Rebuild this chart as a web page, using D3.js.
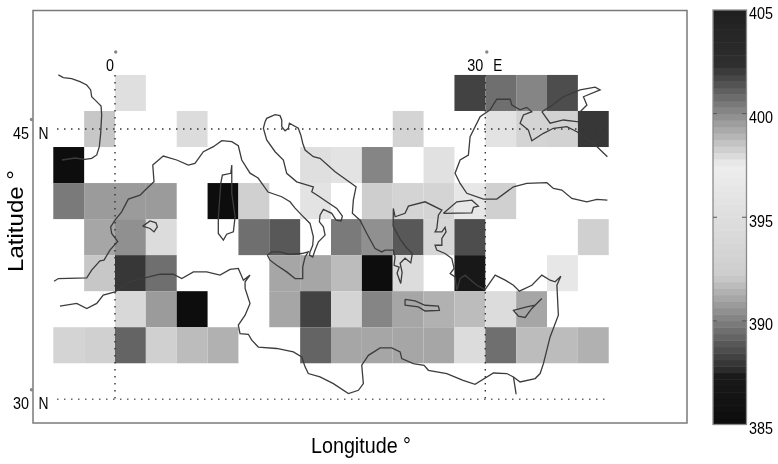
<!DOCTYPE html>
<html lang="en">
<head>
    <meta charset="UTF-8">
    <title>Mediterranean grid map</title>
    <script src="https://cdn.jsdelivr.net/npm/d3@7"></script>
    <style>
        html, body { margin: 0; padding: 0; background: #fff; }
        svg { display: block; filter: blur(0.7px); }
        text { font-family: "Liberation Sans", Arial, sans-serif; fill: #000; }
    </style>
</head>
<body>
<script type="text/javascript">
    // grid cells: west edge of each column, north edge of each row
    var cellLon = [-5, -2.5, 0, 2.5, 5, 7.5, 10, 12.5, 15, 17.5, 20, 22.5, 25, 27.5, 30, 32.5, 35, 37.5];
    var cellLat = [48, 46, 44, 42, 40, 38, 36, 34];
    var n = null;
    var row48 = [n, n, 395.25, n, n, n, n, n, n, n, n, n, n, 388.2, 389.57, 390.02, 388.67, n];
    var row46 = [n, 392.17, n, n, 394.6, n, n, n, n, n, n, 393.3, n, n, 395.9, 393.3, 392.9, 388.0];
    var row44 = [385.2, n, n, n, n, n, n, n, 395.25, 395.9, 390.0, n, 395.6, n, n, n, n, n];
    var row42 = [389.77, 390.8, 390.8, 390.8, n, 385.2, 392.5, n, 395.9, n, 392.2, 393.3, 393.3, 396.5, 392.7, n, n, n];
    var row40 = [n, 391, 390.35, 394.6, n, n, 389.57, 388.9, n, 389.77, 390.35, 389.0, 393.6, 388.45, n, n, n, 392.7];
    var row38 = [n, 392.06, 388.0, 389.5, n, n, n, 391.15, 391.15, 391.6, 385.2, 394.6, n, 386.9, n, n, 396.5, n];
    var row36 = [n, n, 393.97, 390.7, 385, n, n, 391, 388.3, 393.3, 390.2, 391.15, 391.5, 391.72, 394.6, 391, n, n];
    var row34 = [393.3, 392.68, 389.29, 392.68, 391.83, 391.38, n, n, 389.29, 391.15, 391.15, 391, 391, 394.6, 389.57, 391.72, 391.72, 391.38];
    var cellRows = [row48, row46, row44, row42, row40, row38, row36, row34];

    // colour bar
    var barTicks = [385, 390, 395, 400, 405];
    var barMarks = [390, 395, 400];
    var barStops = [385, 387.4, 387.65, 392.2, 397.5, 402.1, 402.15, 405];
    var barGrays = [12, 26, 44, 205, 238, 56, 48, 31];

    // coast lines, [lon, lat]
    var coastFrance = [[-4.59,48.0],[-4.19,47.85],[-3.51,47.79],[-2.84,47.63],[-2.29,47.44],[-1.97,47.17],[-1.89,46.79],[-1.48,46.52],[-1.13,46.28],[-1.08,45.78],[-1.16,44.76],[-1.27,44.02],[-1.48,43.56],[-1.89,43.37],[-2.43,43.32],[-3.24,43.39],[-4.3,43.28]];
    var coastMed = [[-4.94,36.55],[-4.59,36.70],[-2.29,36.74],[-1.89,37.17],[-1.22,37.68],[-0.89,37.72],[-0.41,38.28],[0.22,38.76],[-0.27,39.20],[-0.35,39.57],[0,39.94],[0.54,40.40],[1.08,41.11],[2.03,41.33],[2.57,41.70],[3.16,42.07],[3.06,43.0],[3.91,43.50],[5.0,43.28],[5.94,43.0],[6.48,43.09],[7.16,43.74],[7.97,44.02],[8.65,44.35],[9.46,44.30],[9.99,44.07],[10.27,43.28],[10.94,42.55],[11.59,42.28],[12.40,41.50],[13.51,41.24],[14.18,40.96],[14.59,40.61],[15.13,40.22],[15.80,39.76],[16.07,39.02],[16.02,38.55],[15.80,38.18],[15.75,38.0],[16.02,37.90],[16.21,38.28],[16.48,38.74],[17.02,39.11],[16.88,39.57],[16.56,39.85],[16.61,40.22],[16.88,40.54],[17.56,40.32],[17.91,39.94],[18.32,39.90],[18.42,40.17],[17.97,40.59],[17.16,40.96],[16.48,41.28],[15.94,41.52],[16.07,41.79],[14.72,42.07],[13.91,42.54],[13.64,43.28],[12.97,43.74],[12.29,44.39],[12.02,45.04],[12.16,45.41],[12.29,45.59],[12.97,45.80],[13.37,45.74],[13.51,45.50],[13.51,45.13],[13.78,44.90],[14.04,45.04],[14.13,45.32],[14.85,45.04],[15.05,44.67],[15.21,44.21],[15.40,43.83],[16.07,43.46],[16.61,43.37],[17.83,42.63],[19.53,41.79],[19.31,41.05],[19.23,40.32],[19.85,39.94],[20.40,39.20],[21.07,38.37],[21.61,38.18],[21.88,38.28],[22.55,38.28],[22.69,37.90],[22.61,37.44],[23.02,37.33],[22.85,37.0],[23.15,36.43],[23.26,37.05],[23.10,37.55],[23.50,37.83],[23.96,37.57],[24.09,38.09],[23.58,38.44],[23.10,38.89],[22.53,39.61],[22.55,40.59],[22.69,40.13],[23.50,40.32],[23.77,40.72],[25.12,40.96],[26.48,40.50],[26.20,40.22],[26.07,39.48],[25.93,39.29],[26.48,39.29],[26.74,39.54],[26.82,39.29],[26.48,38.93],[26.48,38.55],[25.93,38.55],[26.07,38.28],[26.74,38.09],[27.29,37.81],[27.47,37.26],[27.15,36.98],[27.55,36.79],[27.69,36.05],[27.96,36.70],[28.36,36.89],[29.31,36.33],[29.98,36.09],[30.80,36.89],[31.61,36.61],[32.28,36.33],[32.76,36.0],[33.77,36.33],[34.58,36.89],[35.25,36.61],[35.66,36.52],[36.12,36.83],[35.80,36.33],[35.92,34.67],[35.25,33.46],[34.71,31.98],[34.44,31.43],[34.04,31.15],[32.82,30.96],[32.28,31.24],[31.74,31.43],[30.66,31.46],[29.17,30.83],[28.20,31.05],[26.88,31.43],[25.39,31.61],[25.04,31.89],[24.17,31.98],[23.23,32.26],[23.10,32.63],[22.42,32.85],[21.48,32.85],[20.53,32.44],[19.99,31.89],[20.12,30.87],[19.72,30.50],[18.91,30.32],[17.69,30.87],[16.61,31.24],[15.66,31.43],[15.40,31.80],[15.13,32.35],[14.45,32.63],[13.10,32.82],[11.61,32.90],[11.08,33.28],[10.80,33.61],[10.13,33.65],[9.99,34.11],[10.54,34.67],[10.94,35.32],[10.54,36.15],[10.54,36.52],[10.94,36.89],[10.40,36.61],[9.99,37.26],[9.32,37.21],[8.51,36.89],[7.43,37.07],[6.35,37.07],[5.41,36.70],[4.72,36.94],[3.65,36.94],[2.57,36.76],[1.22,36.52],[0,35.96],[-0.95,35.78],[-1.48,35.32],[-2.29,35.04],[-3.10,35.32],[-4.46,35.17]];
    var coastSuez = [[32.28,31.24],[32.50,30.28]];
    var coastBlackSea = [[39.89,43.46],[38.76,44.21],[37.42,44.85],[36.61,45.13],[35.52,45.04],[34.71,44.76],[33.77,44.35],[33.49,44.94],[32.82,45.32],[33.09,45.78],[33.77,45.96],[33.36,46.20],[32.82,46.06],[32.15,46.33],[32.01,46.65],[30.93,46.65],[30.39,46.06],[29.58,45.68],[28.77,44.57],[28.63,43.55],[27.96,43.28],[27.55,42.54],[27.96,41.98],[28.50,41.43],[29.85,41.11],[30.93,41.11],[32.28,41.79],[33.36,41.98],[34.99,42.02],[35.52,41.70],[36.20,41.61],[37.01,41.15],[38.23,40.96],[39.04,41.09],[39.89,41.05]];
    var coastAzov = [[34.58,45.96],[35.25,45.32],[36.33,45.50],[37.55,45.40],[37.68,45.96],[38.23,46.33],[37.95,46.79],[39.30,47.17],[38.90,47.32],[37.68,47.17],[36.33,46.79],[35.25,46.24],[34.58,45.96]];
    var coastMarmara = [[26.61,40.32],[27.69,40.96],[28.91,41.05],[29.44,40.72],[29.04,40.65],[28.91,40.35],[26.61,40.32]];
    var coastCorsica = [[9.46,43.0],[9.38,42.54],[8.70,42.44],[8.57,41.98],[8.37,40.04],[8.37,39.20],[8.78,38.83],[9.05,39.16],[9.59,39.29],[9.73,40.13],[9.46,41.43],[9.46,43.0]];
    var coastMallorca = [[2.24,39.61],[2.84,39.90],[3.32,39.79],[3.43,39.57],[3.16,39.29],[2.84,39.48],[2.24,39.61]];
    var coastSicily = [[12.34,38.0],[12.70,38.18],[13.37,38.18],[14.04,38.05],[15.13,38.09],[15.66,38.18],[15.40,37.90],[15.21,37.35],[15.21,36.70],[14.59,36.70],[13.91,37.07],[13.10,37.44],[12.56,37.72],[12.34,38.0]];
    var coastCrete = [[23.50,35.55],[24.31,35.46],[25.12,35.22],[26.20,35.17],[26.28,34.94],[25.12,34.90],[24.58,35.13],[23.50,35.22],[23.50,35.55]];
    var coastCyprus = [[34.58,35.59],[34.04,35.22],[33.36,35.13],[32.28,34.94],[32.68,34.61],[33.23,34.54],[33.77,35.04],[34.58,35.59]];
    var coasts = [coastFrance, coastMed, coastSuez, coastBlackSea, coastAzov, coastMarmara, coastCorsica, coastMallorca, coastSicily, coastCrete, coastCyprus];

    // dotted graticule
    var gridLon = [0, 30];
    var gridLat = [45, 30];

    var w = 778;
    var h = 464;
    var svg = d3.select("body").append("svg").attr("width", w).attr("height", h);

    var x = d3.scaleLinear().domain([0, 30]).range([115, 485.3]);
    var y = d3.scaleLinear().domain([30, 45]).range([399.3, 129]);

    // 64 grey levels, same as the bar
    var grayAt = d3.scaleLinear().domain(barStops).range(barGrays);
    var levels = d3.range(64).map(function(i){
        var g = Math.round(grayAt(385 + (i + 0.5) * 20 / 64));
        return "rgb(" + g + "," + g + "," + g + ")";
    });
    var color = d3.scaleQuantize().domain([385, 405]).range(levels);

    /* cells */
    cellRows.forEach(function(row, r){
        svg.append("g").selectAll("rect")
            .data(row.map(function(v, c){ return {v: v, lon: cellLon[c], lat: cellLat[r]}; })
                     .filter(function(d){ return d.v !== null; }))
            .enter()
            .append("rect")
            .attr("x", function(d){ return x(d.lon); })
            .attr("y", function(d){ return y(d.lat); })
            .attr("width", function(d){ return x(d.lon + 2.5) - x(d.lon); })
            .attr("height", function(d){ return y(d.lat - 2) - y(d.lat); })
            .attr("fill", function(d){ return color(d.v); });
    });

    /* graticule */
    svg.selectAll("line.lon").data(gridLon).enter().append("line")
        .attr("class", "lon")
        .attr("x1", function(d){ return x(d); })
        .attr("x2", function(d){ return x(d); })
        .attr("y1", y(48))
        .attr("y2", y(30))
        .attr("stroke", "#333")
        .attr("stroke-width", 1.4)
        .attr("stroke-dasharray", "1.5,5.5");
    svg.selectAll("line.lat").data(gridLat).enter().append("line")
        .attr("class", "lat")
        .attr("x1", x(-4.7))
        .attr("x2", x(40))
        .attr("y1", function(d){ return y(d); })
        .attr("y2", function(d){ return y(d); })
        .attr("stroke", function(d){ return d === 45 ? "#333" : "#666"; })
        .attr("stroke-width", 1.4)
        .attr("stroke-dasharray", "1.5,5.5");

    /* coast */
    var coastLine = d3.line()
        .x(function(d){ return x(d[0]); })
        .y(function(d){ return y(d[1]); });
    svg.selectAll("path.coast").data(coasts).enter().append("path")
        .attr("class", "coast")
        .attr("d", coastLine)
        .attr("fill", "none")
        .attr("stroke", "#3c3c3c")
        .attr("stroke-width", 1.3);

    /* plot frame */
    svg.append("rect")
        .attr("x", 33).attr("y", 10.5)
        .attr("width", 654).attr("height", 412.5)
        .attr("fill", "none")
        .attr("stroke", "#7a7a7a")
        .attr("stroke-width", 1.5);

    /* map labels */
    function label(txt, px, py, len){
        svg.append("text").text(txt)
            .attr("x", px).attr("y", py)
            .attr("font-size", 17)
            .attr("textLength", len)
            .attr("lengthAdjust", "spacingAndGlyphs");
    }
    label("0", x(0) - 9, 71, 8);
    label("30", x(30) - 18, 71, 16);
    label("E", x(30) + 8, 71, 9);
    label("45", 13, y(45) + 10, 16);
    label("N", 38.5, y(45) + 10, 10);
    label("30", 13, y(30) + 10, 16);
    label("N", 38.5, y(30) + 10, 10);
    var degDots = [[x(0) + 0.7, 52], [x(30) + 1.5, 52], [31.5, y(45) - 9.5], [31.5, y(30) - 9.5]];
    svg.selectAll("circle.deg").data(degDots).enter().append("circle")
        .attr("class", "deg")
        .attr("cx", function(d){ return d[0]; })
        .attr("cy", function(d){ return d[1]; })
        .attr("r", 1.7)
        .attr("fill", "#888");

    /* axis titles */
    svg.append("text").text("Longitude °")
        .attr("x", 311).attr("y", 453)
        .attr("font-size", 22)
        .attr("textLength", 100)
        .attr("lengthAdjust", "spacingAndGlyphs");
    svg.append("text").text("Latitude °")
        .attr("transform", "translate(23,272) rotate(-90)")
        .attr("font-size", 22)
        .attr("textLength", 102)
        .attr("lengthAdjust", "spacingAndGlyphs");

    /* colour bar */
    var barY = d3.scaleLinear().domain([385, 405]).range([424.5, 10]);
    var barG = svg.append("g");
    barG.selectAll("rect").data(levels).enter().append("rect")
        .attr("x", 713)
        .attr("y", function(d, i){ return barY(385 + (i + 1) * 20 / 64); })
        .attr("width", 33.5)
        .attr("height", function(d, i){ return barY(385 + i * 20 / 64) - barY(385 + (i + 1) * 20 / 64) + 0.5; })
        .attr("fill", function(d){ return d; });
    barG.append("rect")
        .attr("x", 713).attr("y", 10)
        .attr("width", 33.5).attr("height", 414.5)
        .attr("fill", "none")
        .attr("stroke", "#8a8a8a")
        .attr("stroke-width", 1.3);
    barG.selectAll("line.mark").data(barMarks).enter().append("line")
        .attr("class", "mark")
        .attr("x1", 713).attr("x2", 717)
        .attr("y1", function(d){ return barY(d); })
        .attr("y2", function(d){ return barY(d); })
        .attr("stroke", "#555");
    barG.selectAll("line.mark2").data(barMarks).enter().append("line")
        .attr("class", "mark2")
        .attr("x1", 742).attr("x2", 746.5)
        .attr("y1", function(d){ return barY(d); })
        .attr("y2", function(d){ return barY(d); })
        .attr("stroke", "#555");

    var barAxis = d3.axisRight(barY).tickValues(barTicks).tickSize(0).tickPadding(0).tickFormat(d3.format("d"));
    var barAxisG = svg.append("g").attr("transform", "translate(749,3.5)").call(barAxis);
    barAxisG.select(".domain").remove();
    barAxisG.selectAll("text")
        .attr("font-family", null)
        .attr("font-size", 17)
        .attr("textLength", 24)
        .attr("lengthAdjust", "spacingAndGlyphs");
</script>
</body>
</html>
